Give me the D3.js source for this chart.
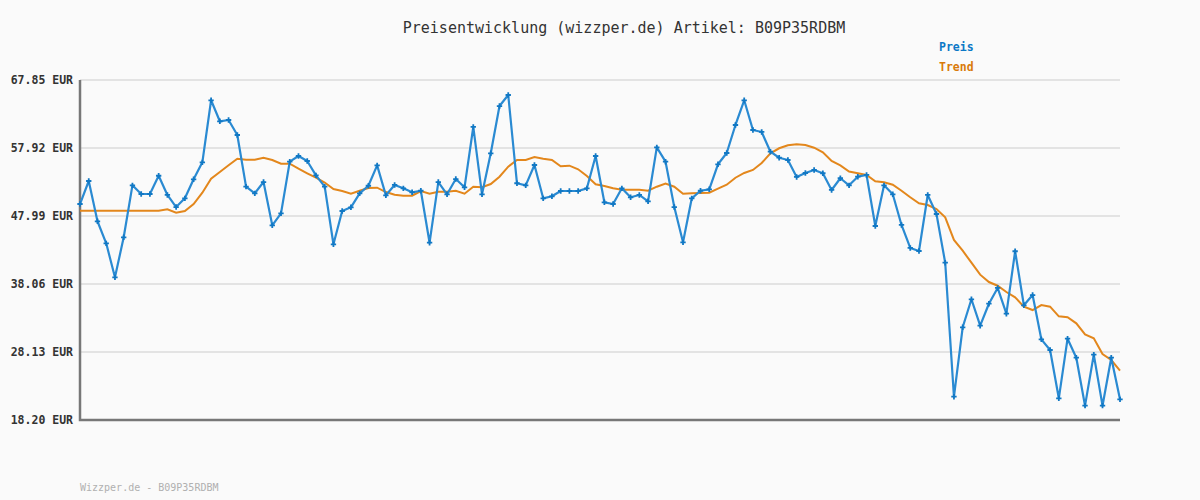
<!DOCTYPE html>
<html><head><meta charset="utf-8">
<script src="https://cdn.jsdelivr.net/npm/d3@7"></script>
<style>html,body{margin:0;padding:0;background:#fafafa;}svg{display:block;}</style>
</head><body>
<svg id="c" width="1200" height="500"></svg>
<script>
const titleText = "Preisentwicklung (wizzper.de) Artikel: B09P35RDBM";
const footerText = "Wizzper.de - B09P35RDBM";
const seriesNames = ["Preis", "Trend"];
const tickValues = [18.20, 28.13, 38.06, 47.99, 57.92, 67.85];
const tickLabels = ["18.20 EUR", "28.13 EUR", "38.06 EUR", "47.99 EUR", "57.92 EUR", "67.85 EUR"];
const preis = [49.74,53.10,47.22,44.00,39.04,44.88,52.47,51.20,51.20,53.87,
51.06,49.30,50.57,53.35,55.83,64.89,61.82,62.01,59.82,52.27,
51.30,52.95,46.63,48.38,55.92,56.75,56.02,53.93,52.27,43.86,
48.72,49.26,51.30,52.41,55.39,51.01,52.52,52.03,51.45,51.68,
44.09,52.95,51.16,53.39,52.18,60.99,51.16,57.15,64.05,65.66,
52.77,52.47,55.44,50.57,50.87,51.64,51.64,51.64,52.03,56.75,
49.99,49.74,52.03,50.72,51.06,50.14,58.02,55.92,49.30,44.15,
50.57,51.68,51.89,55.54,57.19,61.28,64.89,60.55,60.26,57.38,
56.50,56.17,53.69,54.27,54.71,54.23,51.79,53.50,52.47,53.73,
53.98,46.53,52.47,51.16,46.68,43.32,42.88,51.06,48.28,41.17,
21.60,31.74,35.83,31.97,35.18,37.48,33.72,42.84,34.95,36.45,
29.98,28.42,21.37,30.07,27.30,20.29,27.74,20.29,27.30,21.22];
const trend = [48.76,48.76,48.76,48.76,48.76,48.76,48.76,48.76,48.76,48.76,
48.97,48.47,48.72,49.74,51.39,53.44,54.42,55.39,56.36,56.21,
56.21,56.50,56.17,55.63,55.63,54.90,54.23,53.58,52.88,51.93,
51.64,51.25,51.68,52.08,52.12,51.49,51.10,50.95,50.95,51.64,
51.25,51.54,51.54,51.68,51.25,52.27,52.18,52.66,53.73,55.19,
56.17,56.17,56.61,56.36,56.17,55.25,55.34,54.81,53.83,52.62,
52.37,52.03,51.83,51.83,51.83,51.68,52.27,52.71,52.27,51.25,
51.30,51.35,51.39,51.98,52.56,53.58,54.27,54.71,55.73,57.15,
57.88,58.31,58.46,58.36,57.96,57.29,56.02,55.39,54.49,54.23,
53.98,53.06,52.91,52.56,51.68,50.72,49.84,49.60,49.01,47.80,
44.49,42.92,41.17,39.42,38.35,37.81,36.89,36.12,34.75,34.26,
34.99,34.75,33.34,33.20,32.32,30.71,30.13,27.84,26.96,25.40];

const colors = {Preis: "#2a8ad2", Trend: "#e3871c"};
const legendColors = {Preis: "#0c78c6", Trend: "#d97a0a"};
const svg = d3.select("#c");
const L = 80, R = 1120, T = 80, B = 420;
const x = d3.scaleLinear().domain([0, preis.length - 1]).range([L, R]);
const y = d3.scaleLinear().domain([18.20, 67.85]).range([B, T]);
const mono = "'DejaVu Sans Mono', 'Liberation Mono', monospace";

svg.append("rect").attr("width", 1200).attr("height", 500).attr("fill", "#fafafa");

// gridlines
svg.append("g").selectAll("line").data(tickValues.slice(1)).join("line")
  .attr("x1", L).attr("x2", R).attr("y1", d => y(d)).attr("y2", d => y(d))
  .attr("stroke", "#e3e3e3").attr("stroke-width", 2);

// y axis labels via axis
const yAxis = d3.axisLeft(y).tickValues(tickValues).tickSize(0).tickPadding(7)
  .tickFormat((d, i) => tickLabels[i]);
const gy = svg.append("g").attr("transform", `translate(${L},0)`).call(yAxis);
gy.select(".domain").remove();
gy.selectAll("text").attr("font-family", mono).attr("font-size", 11.5)
  .attr("font-weight", "bold").attr("fill", "#333");

// axis lines
svg.append("path").attr("d", `M${L},${T}V${B}H${R}`).attr("fill", "none")
  .attr("stroke", "#777").attr("stroke-width", 2.5);

// trend
const line = d3.line().x((d, i) => x(i)).y(d => y(d));
svg.append("path").datum(trend).attr("d", line).attr("fill", "none")
  .attr("stroke", colors.Trend).attr("stroke-width", 2);
// preis
svg.append("path").datum(preis).attr("d", line).attr("fill", "none")
  .attr("stroke", colors.Preis).attr("stroke-width", 2.2).attr("stroke-linejoin", "round");
svg.append("g").selectAll("path").data(preis).join("path")
  .attr("transform", (d, i) => `translate(${x(i)},${y(d)})`)
  .attr("d", d3.symbol(d3.symbolCross, 16))
  .attr("fill", "#1178c4");

// title
svg.append("text").attr("x", 624).attr("y", 33).attr("text-anchor", "middle")
  .attr("font-family", mono).attr("font-size", 15).attr("fill", "#333")
  .text(titleText);

// legend
seriesNames.forEach((n, i) => {
  svg.append("text").attr("x", 939).attr("y", 51 + i * 20)
    .attr("font-family", mono).attr("font-size", 11.5).attr("font-weight", "bold")
    .attr("fill", legendColors[n]).text(n);
});

// footer
svg.append("text").attr("x", 80).attr("y", 491)
  .attr("font-family", mono).attr("font-size", 10).attr("fill", "#b0b0b0")
  .text(footerText);
</script>
</body></html>
